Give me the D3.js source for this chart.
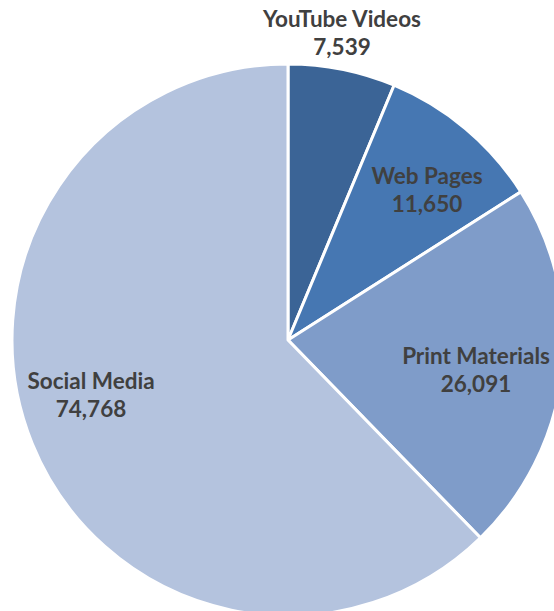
<!DOCTYPE html>
<html><head><meta charset="utf-8">
<script src="https://cdn.jsdelivr.net/npm/d3@7"></script>
<style>html,body{margin:0;padding:0;background:#fff;overflow:hidden}</style>
</head><body>
<svg id="c" width="554" height="611"></svg>
<script>
const categories = ["YouTube Videos", "Web Pages", "Print Materials", "Social Media"];
const values = [7539, 11650, 26091, 74768];
const colors = ["#3b6496", "#4677b2", "#7f9cc9", "#b4c3de"];
// label layout (pixel positions of label centers, relative to pie center)
const labelOffsets = [[54, -307], [139, -150], [188, 30], [-197, 55]];

const svg = d3.select("#c");
const cx = 288, cy = 340, R = 276;
const g = svg.append("g").attr("transform", `translate(${cx},${cy})`);
const pie = d3.pie().sort(null).value(d => d)(values);
const arc = d3.arc().innerRadius(0).outerRadius(R);
g.selectAll("path").data(pie).join("path")
  .attr("d", arc)
  .attr("fill", (d, i) => colors[i])
  .attr("stroke", "#fff").attr("stroke-width", 3).attr("stroke-linejoin", "round");

const fmt = d3.format(",");
const lab = g.selectAll("text.l").data(pie).join("text").attr("class", "l")
  .attr("text-anchor", "middle")
  .attr("font-family", "Lato, 'Open Sans', sans-serif")
  .attr("font-weight", "bold").attr("font-size", 22.5).attr("fill", "#404040")
  .attr("transform", (d, i) => `translate(${labelOffsets[i][0]},${labelOffsets[i][1]})`);
lab.append("tspan").attr("x", 0).attr("y", -6).text((d, i) => categories[i]);
lab.append("tspan").attr("x", 0).attr("y", 21.5).text(d => fmt(d.data));
</script>
</body></html>
